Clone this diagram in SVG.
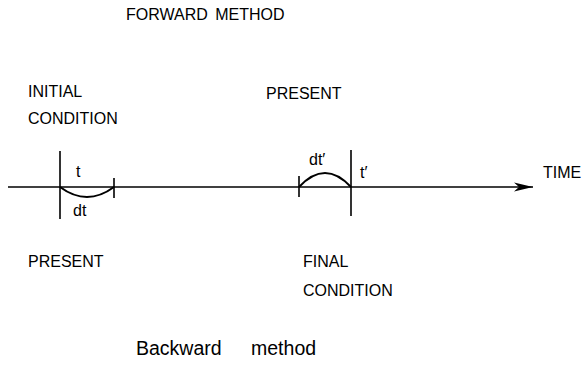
<svg xmlns="http://www.w3.org/2000/svg" width="582" height="371" viewBox="0 0 582 371">
<style>
.lbl{font-family:"Liberation Sans",Arial,sans-serif;font-size:16px;fill:#000}
.big{font-family:"Liberation Sans",Arial,sans-serif;font-size:19.5px;fill:#000}
.ln{stroke:#000;stroke-width:1.6;fill:none}
.arc{stroke:#000;stroke-width:2;fill:none}
</style>
<defs>
<marker id="ah" markerWidth="20" markerHeight="12" refX="19" refY="6" orient="auto" markerUnits="userSpaceOnUse">
<path d="M0,1.5 L19,6 L0,10.5 L5,6 Z" fill="#000"/>
</marker>
</defs>
<rect width="582" height="371" fill="#fff"/>
<text class="lbl" x="126" y="20" style="word-spacing:3px">FORWARD METHOD</text>
<g id="connectors">
<line class="ln" x1="8" y1="187" x2="533" y2="187" marker-end="url(#ah)"/>
</g>
<g id="initial">
<text class="lbl" x="28" y="97">INITIAL</text>
<text class="lbl" x="28" y="124">CONDITION</text>
<line class="ln" x1="60" y1="151" x2="60" y2="219"/>
<line class="ln" x1="114" y1="178" x2="114" y2="198"/>
<path class="arc" d="M60,187 Q87,207 114,187"/>
<text class="lbl" x="76" y="177">t</text>
<text class="lbl" x="73" y="216">dt</text>
</g>
<g id="present-top">
<text class="lbl" x="266" y="99">PRESENT</text>
</g>
<g id="final">
<line class="ln" x1="351" y1="150" x2="351" y2="216"/>
<line class="ln" x1="299" y1="176" x2="299" y2="197"/>
<path class="arc" d="M299,187 Q325,159 351,187"/>
<text class="lbl" x="309" y="165">dt′</text>
<text class="lbl" x="360" y="178">t′</text>
</g>
<g id="time">
<text class="lbl" x="543" y="178">TIME</text>
</g>
<g id="present-bottom">
<text class="lbl" x="28" y="267">PRESENT</text>
</g>
<g id="final-cond">
<text class="lbl" x="303" y="267">FINAL</text>
<text class="lbl" x="303" y="296">CONDITION</text>
</g>
<text class="big" x="136" y="355" style="word-spacing:24px">Backward method</text>
</svg>
